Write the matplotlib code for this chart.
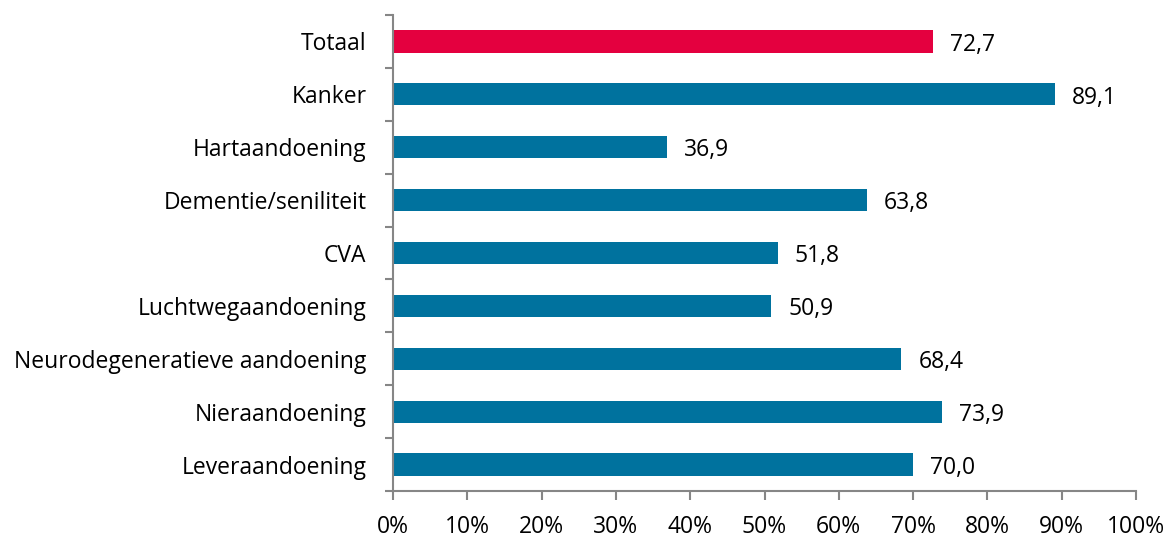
import numpy as np
import matplotlib.pyplot as plt

categories = ["Totaal", "Kanker", "Hartaandoening", "Dementie/seniliteit", "CVA",
              "Luchtwegaandoening", "Neurodegeneratieve aandoening",
              "Nieraandoening", "Leveraandoening"]
values = [72.7, 89.1, 36.9, 63.8, 51.8, 50.9, 68.4, 73.9, 70.0]
colors = ["#E4003F"] + ["#00729E"] * 8

plt.rcParams['font.family'] = ['Open Sans', 'DejaVu Sans']

fig = plt.figure(figsize=(11.68, 5.41), dpi=100)
ax = fig.add_axes([393 / 1168, 50 / 541, (1136 - 393) / 1168, (491 - 15) / 541])

y = np.arange(len(categories))
ax.barh(y, values, height=0.42, color=colors)
for yi, v in zip(y, values):
    ax.text(v + 2.3, yi + 0.06, f"{v:.1f}".replace(".", ","), va="center", ha="left", fontsize=16.5)

ax.set_ylim(len(categories) - 0.5, -0.5)
ax.set_xlim(0, 100)
ax.set_xticks(np.arange(0, 101, 10))
ax.set_xticklabels([f"{t}%" for t in range(0, 101, 10)], fontsize=16.5)
ax.set_yticks(y)
ax.set_yticklabels(categories, fontsize=16.5)
ax.set_yticks(np.arange(-0.5, len(categories)), minor=True)
ax.tick_params(axis="y", which="major", length=0, pad=19)
ax.tick_params(axis="y", which="minor", length=6, width=1.5, color="#868686")
ax.tick_params(axis="x", length=6.5, width=1.5, color="#868686", pad=11)

for s in ["top", "right"]:
    ax.spines[s].set_visible(False)
for s in ["left", "bottom"]:
    ax.spines[s].set_color("#868686")
    ax.spines[s].set_linewidth(1.5)

fig.savefig("out.png", dpi=100)
